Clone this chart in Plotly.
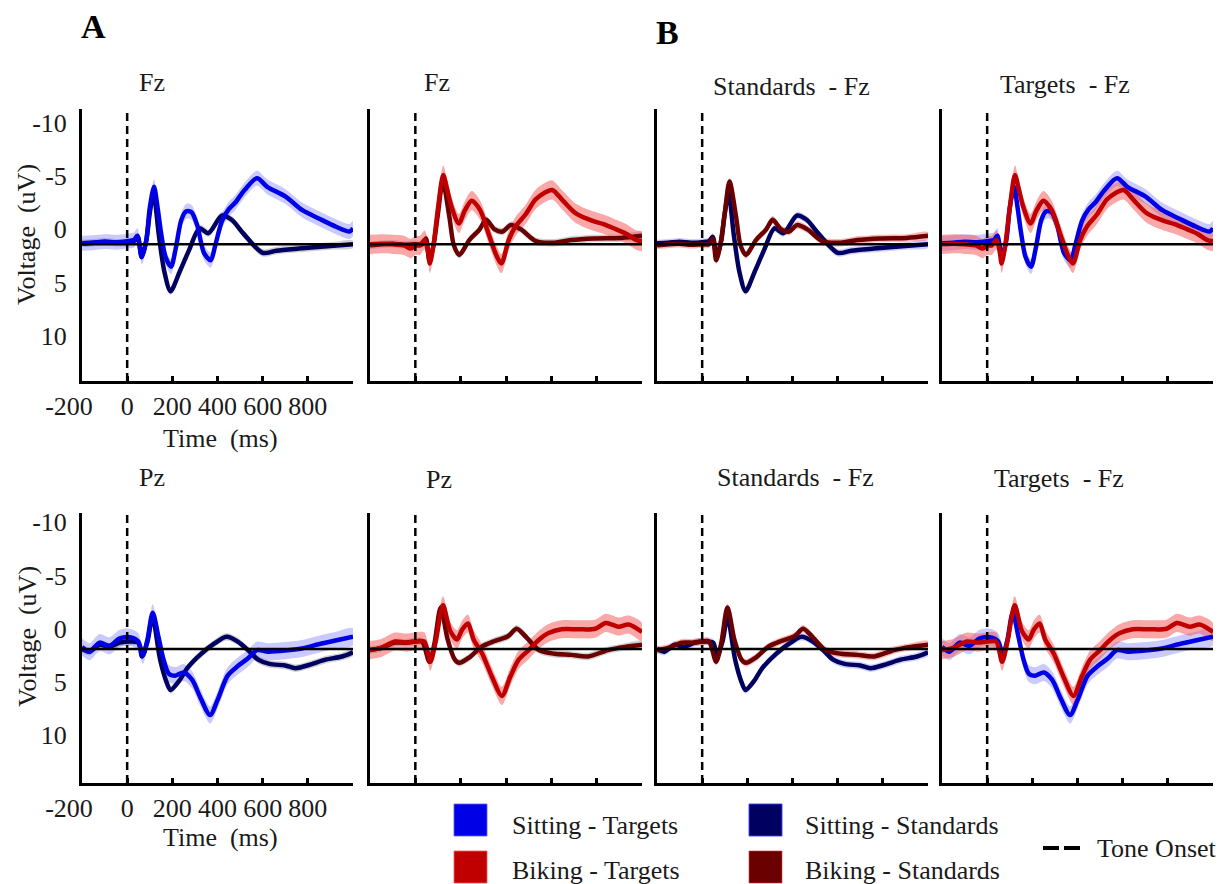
import plotly.graph_objects as go

# ---------------- data (time in ms, voltage in uV as read on the axes) ----------------
NB = "\u00a0"
TIME_TICKS = [-200, 0, 200, 400, 600, 800, 1000]
TIME_TICK_TEXT = ["-200" + NB * 4, "0", "200", "400", "600", "800", ""]
VOLT_TICKS = [-10, -5, 0, 5, 10]
VOLT_TICK_TEXT = ["-10", "-5", "0", "5", "10"]

# Fz
FZ_SIT_TGT_T = [-200, -150, -100, -50, 0, 30, 45, 65, 85, 100, 119, 135, 150, 170, 194, 215, 240, 262, 285, 310,
                340, 370, 390, 420, 450, 478, 520, 575, 620, 700, 776, 851, 925, 985, 1000]
FZ_SIT_TGT_V = [1.3, 1.25, 1.15, 1.2, 1.1, 1.0, 0.6, 2.6, 1.0, -2.0, -4.0, -2.0, 0.3, 2.6, 3.5, 1.8, -0.9, -1.7, -1.6, -0.4,
                2.2, 2.9, 1.5, -0.8, -1.9, -2.5, -3.7, -4.8, -4.0, -3.1, -1.8, -1.0, -0.25, 0.2, -0.1]

FZ_SIT_STD_T = [-200, -150, -100, -50, 0, 30, 47, 64, 85, 100, 117, 140, 165, 192, 232, 275, 320, 360, 420, 463,
                515, 600, 660, 760, 900, 1000]
FZ_SIT_STD_V = [1.3, 1.25, 1.15, 1.25, 1.2, 1.1, 0.7, 2.6, 1.0, -1.5, -3.4, 0.5, 4.0, 5.8, 4.0, 1.9, -0.1, 0.35, -1.3, -0.9,
                0.4, 2.2, 2.0, 1.8, 1.55, 1.4]

FZ_BIK_TGT_T = [-200, -150, -100, -50, -20, 0, 20, 41, 55, 64, 80, 100, 123, 140, 160, 192, 219, 249, 286, 323,
                360, 380, 412, 441, 486, 530, 567, 604, 649, 708, 782, 830, 886, 930, 975, 1000]
FZ_BIK_TGT_V = [1.4, 1.35, 1.4, 1.5, 1.8, 1.5, 1.5, 1.0, 2.0, 3.2, 1.5, -2.0, -5.1, -3.8, -2.1, -0.55, -1.8, -2.7, -1.8, 0.4,
                2.55, 3.2, 1.0, -0.25, -1.4, -2.8, -3.4, -3.7, -2.75, -1.5, -0.8, -0.5, 0.0, 0.4, 1.0, 1.1]

FZ_BIK_STD_T = [-200, -150, -100, -50, 0, 30, 47, 62, 80, 100, 121, 150, 170, 194, 238, 282, 312, 350, 385, 420,
                466, 532, 613, 687, 790, 907, 1000]
FZ_BIK_STD_V = [1.5, 1.4, 1.35, 1.45, 1.4, 1.4, 0.85, 2.9, 1.5, -1.5, -4.5, -1.2, 1.5, 2.4, 1.0, 0.05, -0.9, 0.0, 0.2, -0.4,
                0.0, 1.1, 1.25, 1.0, 0.85, 0.8, 0.6]

# Pz
PZ_SIT_TGT_T = [-200, -167, -122, -78, -33, 12, 49, 69, 90, 113, 139, 161, 184, 213, 251, 288, 325, 367, 400, 445,
                490, 534, 575, 624, 699, 773, 848, 922, 1000]
PZ_SIT_TGT_V = [1.7, 2.15, 1.3, 1.6, 0.9, 0.8, 1.2, 2.5, 1.0, -1.5, 0.8, 2.9, 4.2, 4.4, 4.1, 4.8, 6.5, 8.1, 6.7, 4.4,
                3.5, 2.8, 2.0, 2.15, 2.05, 1.85, 1.45, 1.1, 0.75]

PZ_SIT_STD_T = [-200, -167, -122, -78, -33, 12, 49, 66, 90, 112, 146, 176, 192, 230, 266, 325, 385, 440, 490, 540,
                580, 630, 700, 745, 805, 878, 952, 1000]
PZ_SIT_STD_V = [1.9, 2.15, 1.5, 1.7, 1.3, 1.2, 1.3, 2.6, 1.2, -1.1, 2.9, 5.1, 5.75, 4.9, 3.7, 2.4, 1.4, 0.75, 1.2, 2.1,
                2.9, 3.3, 3.45, 3.7, 3.4, 2.9, 2.6, 2.2]

PZ_BIK_TGT_T = [-200, -150, -90, -40, 0, 40, 66, 90, 122, 154, 184, 206, 232, 257, 294, 338, 382, 419, 456, 500,
                544, 588, 645, 720, 794, 840, 897, 941, 1000]
PZ_BIK_TGT_V = [2.0, 1.8, 1.2, 1.3, 1.2, 1.2, 3.1, 1.2, -2.2, 0.2, 1.0, 0.1, -0.5, 1.0, 2.3, 4.5, 6.3, 4.5, 2.9, 2.0,
                1.05, 0.4, 0.05, 0.05, 0.0, -0.55, -0.2, -0.4, 0.3]

PZ_BIK_STD_T = [-200, -150, -90, -40, 0, 30, 62, 85, 112, 143, 174, 194, 238, 292, 350, 409, 447, 490, 545, 615,
                688, 762, 850, 924, 1000]
PZ_BIK_STD_V = [2.0, 1.8, 1.3, 1.3, 1.2, 1.2, 3.1, 1.3, -2.0, 1.05, 2.9, 3.2, 2.7, 1.7, 1.15, 0.7, 0.0, 0.8, 2.0, 2.35,
                2.45, 2.6, 2.0, 1.7, 1.5]

# half-width of the shaded error band (uV)
SEM_FZ_SIT_TGT = 0.7
SEM_FZ_SIT_STD = 0.35
SEM_FZ_BIK_TGT = 0.9
SEM_FZ_BIK_STD = 0.35
SEM_PZ_SIT_TGT = 0.8
SEM_PZ_SIT_STD = 0.35
SEM_PZ_BIK_TGT = 0.85
SEM_PZ_BIK_STD = 0.35

# voltage of the black reference line in each row (as it sits against the tick labels)
BASELINE_FZ = 1.4
BASELINE_PZ = 1.9

LEGEND_LABELS = ["Sitting - Targets", "Biking - Targets", "Sitting - Standards", "Biking - Standards"]

# ---------------- styles ----------------
C_SIT_TGT = "#0000E6"
C_BIK_TGT = "#C00000"
C_SIT_STD = "#000060"
C_BIK_STD = "#6A0000"
BAND = {
    "sit_tgt": "rgba(90,90,255,0.32)",
    "bik_tgt": "rgba(245,80,80,0.5)",
    "sit_std_A": "rgba(120,120,120,0.35)",
    "bik_std_A": "rgba(120,120,120,0.35)",
    "sit_std_B": "rgba(110,110,255,0.32)",
    "bik_std_B": "rgba(245,90,90,0.45)",
}
FONT = "Liberation Serif"
TXT = "#1a1a1a"

SERIES = {
    ("FZ", "sit_tgt"): (FZ_SIT_TGT_T, FZ_SIT_TGT_V, SEM_FZ_SIT_TGT, C_SIT_TGT),
    ("FZ", "sit_std"): (FZ_SIT_STD_T, FZ_SIT_STD_V, SEM_FZ_SIT_STD, C_SIT_STD),
    ("FZ", "bik_tgt"): (FZ_BIK_TGT_T, FZ_BIK_TGT_V, SEM_FZ_BIK_TGT, C_BIK_TGT),
    ("FZ", "bik_std"): (FZ_BIK_STD_T, FZ_BIK_STD_V, SEM_FZ_BIK_STD, C_BIK_STD),
    ("PZ", "sit_tgt"): (PZ_SIT_TGT_T, PZ_SIT_TGT_V, SEM_PZ_SIT_TGT, C_SIT_TGT),
    ("PZ", "sit_std"): (PZ_SIT_STD_T, PZ_SIT_STD_V, SEM_PZ_SIT_STD, C_SIT_STD),
    ("PZ", "bik_tgt"): (PZ_BIK_TGT_T, PZ_BIK_TGT_V, SEM_PZ_BIK_TGT, C_BIK_TGT),
    ("PZ", "bik_std"): (PZ_BIK_STD_T, PZ_BIK_STD_V, SEM_PZ_BIK_STD, C_BIK_STD),
}

# (row, col, electrode, title, series drawn bottom->top, section)
PANELS = [
    (1, 1, "FZ", "Fz", ["sit_std", "sit_tgt"], "A"),
    (1, 2, "FZ", "Fz", ["bik_std", "bik_tgt"], "A"),
    (1, 3, "FZ", "Standards" + NB + NB + "- Fz", ["sit_std", "bik_std"], "B"),
    (1, 4, "FZ", "Targets" + NB + NB + "- Fz", ["sit_tgt", "bik_tgt"], "B"),
    (2, 1, "PZ", "Pz", ["sit_std", "sit_tgt"], "A"),
    (2, 2, "PZ", "Pz", ["bik_std", "bik_tgt"], "A"),
    (2, 3, "PZ", "Standards" + NB + NB + "- Fz", ["sit_std", "bik_std"], "B"),
    (2, 4, "PZ", "Targets" + NB + NB + "- Fz", ["sit_tgt", "bik_tgt"], "B"),
]

W, H = 1230, 884


def px(x):
    return x / W


def py(y):
    return 1 - y / H


COL_X = {1: (82, 353), 2: (370, 642), 3: (657, 928), 4: (942, 1213)}
ROW_Y = {1: (109, 381), 2: (513, 783)}
ROW_RANGE = {1: [14.23, -11.3], 2: [14.48, -10.87]}
TITLE_POS = {(1, 1): (152, 82), (1, 2): (437, 82), (1, 3): (791, 87), (1, 4): (1065, 85),
             (2, 1): (152, 478), (2, 2): (439, 480), (2, 3): (796, 478), (2, 4): (1059, 479)}

fig = go.Figure()
layout = dict(width=W, height=H, margin=dict(l=0, r=0, t=0, b=0, pad=0, autoexpand=False),
              plot_bgcolor="white", paper_bgcolor="white", showlegend=False,
              font=dict(family=FONT, color=TXT, size=25))
shapes = []
annotations = []

for i, (row, col, elec, title, keys, sec) in enumerate(PANELS):
    n = i + 1
    xa = "x" if n == 1 else f"x{n}"
    ya = "y" if n == 1 else f"y{n}"
    x0, x1 = COL_X[col]
    y0, y1 = ROW_Y[row]
    layout["xaxis" if n == 1 else f"xaxis{n}"] = dict(
        domain=[px(x0), px(x1)], range=[-200, 1000], anchor=ya, automargin=False,
        showline=True, linewidth=3, linecolor="black", showgrid=False, zeroline=False,
        tickmode="array", tickvals=TIME_TICKS, ticktext=TIME_TICK_TEXT, tickangle=0,
        ticks="inside", ticklen=5, tickwidth=3, tickcolor="black",
        showticklabels=(col == 1), tickfont=dict(size=26, family=FONT, color=TXT),
        ticklabelstandoff=0,
    )
    layout["yaxis" if n == 1 else f"yaxis{n}"] = dict(
        domain=[py(y1), py(y0)], range=ROW_RANGE[row], anchor=xa, automargin=False,
        showline=True, linewidth=3, linecolor="black", showgrid=False, zeroline=False,
        tickmode="array", tickvals=VOLT_TICKS, ticktext=VOLT_TICK_TEXT, ticks="", tickangle=0,
        showticklabels=(col == 1), tickfont=dict(size=26, family=FONT, color=TXT),
        ticklabelstandoff=7,
    )
    for k in keys:
        t, v, sem, color = SERIES[(elec, k)]
        band_key = k if k.endswith("tgt") else f"{k}_{sec}"
        upper = [a - sem for a in v]
        lower = [a + sem for a in v]
        fig.add_trace(go.Scatter(x=list(t) + list(t)[::-1], y=upper + lower[::-1], fill="toself",
                                 fillcolor=BAND[band_key], line=dict(width=0, shape="spline", smoothing=0.8),
                                 mode="lines", hoverinfo="skip", xaxis=xa, yaxis=ya))
    for k in keys:
        t, v, sem, color = SERIES[(elec, k)]
        fig.add_trace(go.Scatter(x=t, y=v, mode="lines", xaxis=xa, yaxis=ya,
                                 line=dict(color=color, width=4.5, shape="spline", smoothing=0.8)))
    base = BASELINE_FZ if elec == "FZ" else BASELINE_PZ
    shapes.append(dict(type="line", xref=xa, yref=ya, x0=-200, x1=1000, y0=base, y1=base,
                       line=dict(color="black", width=2.5), layer="above"))
    shapes.append(dict(type="line", xref=xa, yref=f"{ya} domain", x0=0, x1=0, y0=0, y1=1,
                       line=dict(color="black", width=2.5, dash="8px,5px"), layer="above"))
    tx, ty = TITLE_POS[(row, col)]
    annotations.append(dict(text=title, x=px(tx), y=py(ty), xref="paper", yref="paper",
                            showarrow=False, xanchor="center", yanchor="middle",
                            font=dict(size=26, family=FONT, color=TXT)))

# axis titles
for yc in [235, 637]:
    annotations.append(dict(text="Voltage" + NB + NB + "(uV)", x=px(27), y=py(yc), xref="paper", yref="paper",
                            showarrow=False, textangle=-90, xanchor="center", yanchor="middle",
                            font=dict(size=26, family=FONT, color=TXT)))
for yt in [438, 837]:
    annotations.append(dict(text="Time" + NB + NB + "(ms)", x=px(220), y=py(yt), xref="paper", yref="paper",
                            showarrow=False, xanchor="center", yanchor="middle",
                            font=dict(size=26, family=FONT, color=TXT)))

# section letters
annotations.append(dict(text="<b>A</b>", x=px(94), y=py(26), xref="paper", yref="paper", showarrow=False,
                        xanchor="center", yanchor="middle", font=dict(size=34, family=FONT, color="black")))
annotations.append(dict(text="<b>B</b>", x=px(667), y=py(33), xref="paper", yref="paper", showarrow=False,
                        xanchor="center", yanchor="middle", font=dict(size=34, family=FONT, color="black")))

# legend (drawn manually)
LEG = [
    (LEGEND_LABELS[0], C_SIT_TGT, "rgba(90,90,255,0.8)", 454, 804, 510, 825),
    (LEGEND_LABELS[1], C_BIK_TGT, "rgba(255,90,90,0.8)", 454, 851, 510, 870),
    (LEGEND_LABELS[2], C_SIT_STD, "rgba(60,60,255,0.9)", 749, 804, 803, 825),
    (LEGEND_LABELS[3], C_BIK_STD, "rgba(200,60,60,0.6)", 749, 851, 803, 870),
]
for label, fill, edge, sx, sy, lx, ly in LEG:
    shapes.append(dict(type="rect", xref="paper", yref="paper", x0=px(sx), x1=px(sx + 33),
                       y0=py(sy + 32), y1=py(sy), fillcolor=fill, line=dict(color=edge, width=1)))
    annotations.append(dict(text=label, x=px(lx), y=py(ly), xref="paper", yref="paper", showarrow=False,
                            xanchor="left", yanchor="middle", font=dict(size=26, family=FONT, color=TXT)))
shapes.append(dict(type="line", xref="paper", yref="paper", x0=px(1043), x1=px(1080), y0=py(848), y1=py(848),
                   line=dict(color="black", width=4, dash="16px,5px")))
annotations.append(dict(text="Tone Onset", x=px(1095), y=py(848), xref="paper", yref="paper", showarrow=False,
                        xanchor="left", yanchor="middle", font=dict(size=26, family=FONT, color=TXT)))

layout["shapes"] = shapes
layout["annotations"] = annotations
fig.update_layout(**layout)
fig.write_html("out.html")
